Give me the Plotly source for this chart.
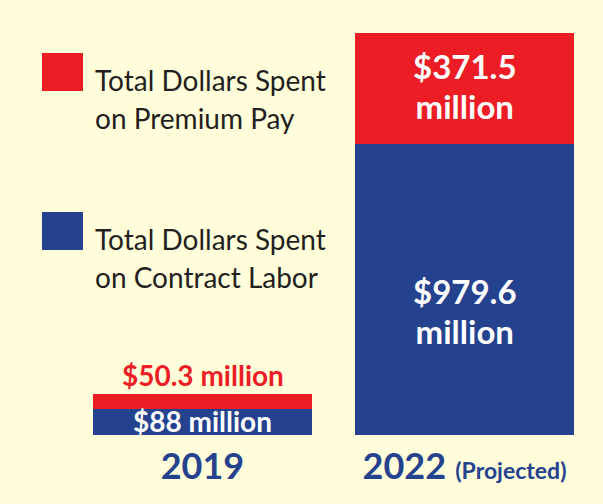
import plotly.graph_objects as go

years = ["2019", "2022"]
year_labels = ["<b>2019</b>", "<b>2022</b> <b><span style='font-size:23px'>(Projected)</span></b>"]
contract_labor = [88.0, 979.6]
premium_pay = [50.3, 371.5]
contract_text = [["$88 million"], ["$979.6", "million"]]
premium_text = [["$50.3 million"], ["$371.5", "million"]]
series_names = [["Total Dollars Spent", "on Premium Pay"], ["Total Dollars Spent", "on Contract Labor"]]

RED = "#EC1D25"
BLUE = "#24428E"
BG = "#FFFDDA"
W, H = 603, 504
MB = 69
PH = H - MB
FONT = "Lato"


def lines_html(lines, size, bold=False):
    """Join lines, each drawn at `size` px (line spacing comes from the base font)."""
    parts = [f"<span style='font-size:{size}px'>{ln}</span>" for ln in lines]
    html = "<br>".join(parts)
    return f"<b>{html}</b>" if bold else html


fig = go.Figure()
fig.add_trace(go.Bar(x=years, y=contract_labor, name="Contract Labor",
                     marker=dict(color=BLUE, line=dict(width=0)), hoverinfo="skip"))
fig.add_trace(go.Bar(x=years, y=premium_pay, name="Premium Pay",
                     marker=dict(color=RED, line=dict(width=0)), hoverinfo="skip"))

# value labels, anchored on the data of each segment
label_specs = [
    # (year index, anchor y in data, lines, yanchor, yshift, glyph size, base size, color)
    (0, contract_labor[0] / 2, contract_text[0], "top", 20, 28, 28, "white"),
    (0, contract_labor[0] + premium_pay[0], premium_text[0], "top", 38, 28, 28, RED),
    (1, contract_labor[1] / 2, contract_text[1], "middle", -22, 33, 31, "white"),
    (1, contract_labor[1] + premium_pay[1] / 2, premium_text[1], "middle", 2, 33, 31, "white"),
]
for i, yv, lines, ya, ys, gsize, bsize, color in label_specs:
    fig.add_annotation(x=i, y=yv, xref="x", yref="y", text=lines_html(lines, gsize, bold=True),
                       showarrow=False, xanchor="center", yanchor=ya, yshift=ys, align="center",
                       font=dict(family=FONT, size=bsize, color=color))


def px(x):
    return x / W


def py(y):
    return 1 - y / PH


# legend squares and text (layout elements)
legend_items = [(RED, 53, series_names[0]), (BLUE, 212, series_names[1])]
for color, top, lines in legend_items:
    fig.add_shape(type="rect", xref="paper", yref="paper",
                  x0=px(42), x1=px(83), y0=py(top + 38), y1=py(top),
                  fillcolor=color, line=dict(width=0))
    fig.add_annotation(xref="paper", yref="paper", x=px(93), y=py(top + 8),
                       text=lines_html(lines, 28), showarrow=False, xanchor="left", yanchor="top",
                       align="left", font=dict(family=FONT, size=29.2, color="#231F20"))

total_max = max(a + b for a, b in zip(contract_labor, premium_pay))
fig.update_layout(
    width=W, height=H, barmode="stack", bargap=1 - 219 / 262,
    paper_bgcolor=BG, plot_bgcolor=BG, showlegend=False,
    margin=dict(l=0, r=0, t=0, b=MB),
    xaxis=dict(type="category", range=[-202.5 / 262, 1 + (W - 464.5) / 262],
               tickvals=years, ticktext=year_labels, showgrid=False, zeroline=False,
               showline=False, ticks="", ticklabelstandoff=7,
               tickfont=dict(family=FONT, size=36, color=BLUE)),
    yaxis=dict(range=[0, total_max * PH / 402], visible=False),
)
fig.write_html("out.html", config={"displayModeBar": False},
               post_script="document.body.style.margin='0';document.body.style.background='" + BG + "';")
